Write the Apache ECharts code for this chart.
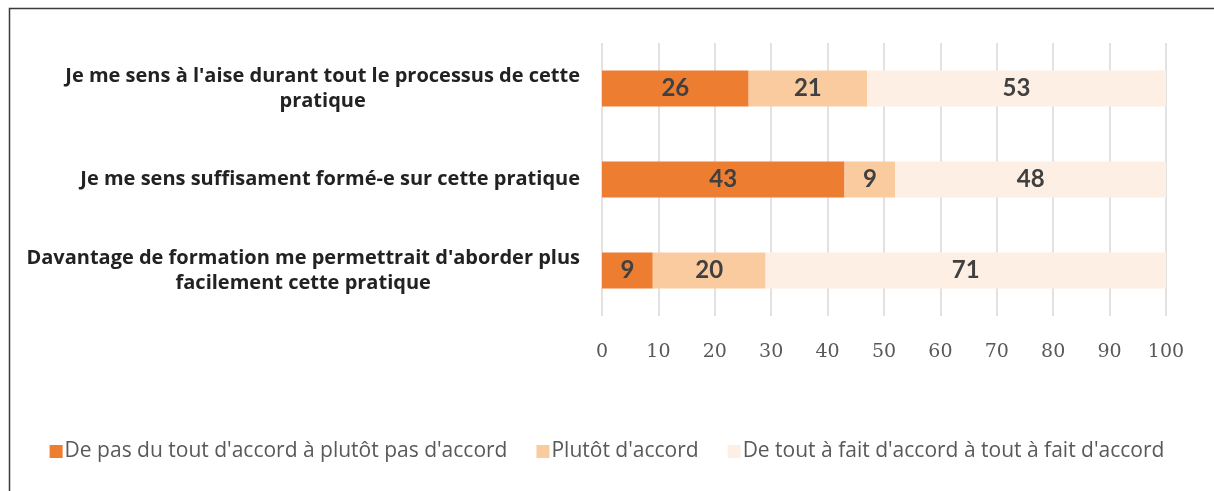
<!DOCTYPE html>
<html>
<head>
<meta charset="utf-8">
<script src="https://cdn.jsdelivr.net/npm/echarts@6/dist/echarts.min.js"></script>
<style>
  html, body { margin: 0; padding: 0; background: #fff; }
  #chart { width: 1214px; height: 491px; }
</style>
</head>
<body>
<div id="chart"></div>
<script>
// categories, top to bottom as shown
const categories = [
  "Je me sens à l'aise durant tout le processus de cette\npratique",
  "Je me sens suffisament formé-e sur cette pratique",
  "Davantage de formation me permettrait d'aborder plus\nfacilement cette pratique",
];
const seriesNames = [
  "De pas du tout d'accord à plutôt pas d'accord",
  "Plutôt d'accord",
  "De tout à fait d'accord à tout à fait d'accord",
];
const disagree = [26, 43, 9];
const ratherAgree = [21, 9, 20];
const fullyAgree = [53, 48, 71];
const xTicks = [0, 10, 20, 30, 40, 50, 60, 70, 80, 90, 100];

const colors = ["#ED7D31", "#FBCBA0", "#FDEFE4"];
const values = [disagree, ratherAgree, fullyAgree];

const myChart = echarts.init(document.getElementById("chart"));

const series = seriesNames.map((name, i) => ({
  name: name,
  type: "bar",
  stack: "total",
  barWidth: 36,
  itemStyle: { color: colors[i] },
  label: {
    show: true,
    position: "inside",
    fontFamily: "Lato",
    fontWeight: "bold",
    fontSize: 24,
    color: "#404040",
  },
  data: values[i],
}));

const option = {
  backgroundColor: "#fff",
  animation: false,
  graphic: [
    {
      type: "rect",
      shape: { x: 9.5, y: 8.5, width: 1300, height: 600 },
      style: { fill: "none", stroke: "#3a3a3a", lineWidth: 1.5 },
      silent: true,
    },
  ],
  legend: {
    bottom: 24,
    left: "center",
    itemWidth: 13,
    itemHeight: 13,
    itemGap: 29,
    icon: "rect",
    textStyle: {
      fontFamily: "Open Sans",
      fontSize: 21,
      color: "#595959",
      padding: [0, 0, 0, -3],
    },
    data: seriesNames,
  },
  grid: {
    left: 602,
    right: 48,
    top: 43,
    bottom: 175,
  },
  xAxis: {
    type: "value",
    min: 0,
    max: 100,
    interval: 10,
    axisLine: { show: false },
    axisTick: { show: false },
    splitLine: { lineStyle: { color: "#D9D9D9", width: 1.5 } },
    axisLabel: {
      margin: 27,
      fontFamily: "DejaVu Serif",
      fontSize: 19,
      color: "#595959",
      formatter: (v) => (xTicks.includes(v) ? String(v) : ""),
    },
  },
  yAxis: {
    type: "category",
    inverse: true,
    data: categories,
    axisLine: { show: false },
    axisTick: { show: false },
    axisLabel: {
      margin: 22,
      formatter: (v) =>
        v
          .split("\n")
          .map((s) => "{c|" + s + "}")
          .join("\n"),
      rich: {
        c: {
          align: "center",
          fontFamily: "Open Sans",
          fontWeight: "bold",
          fontSize: 20,
          lineHeight: 25,
          color: "#222",
        },
      },
    },
  },
  series: series,
};

myChart.setOption(option);
</script>
</body>
</html>
